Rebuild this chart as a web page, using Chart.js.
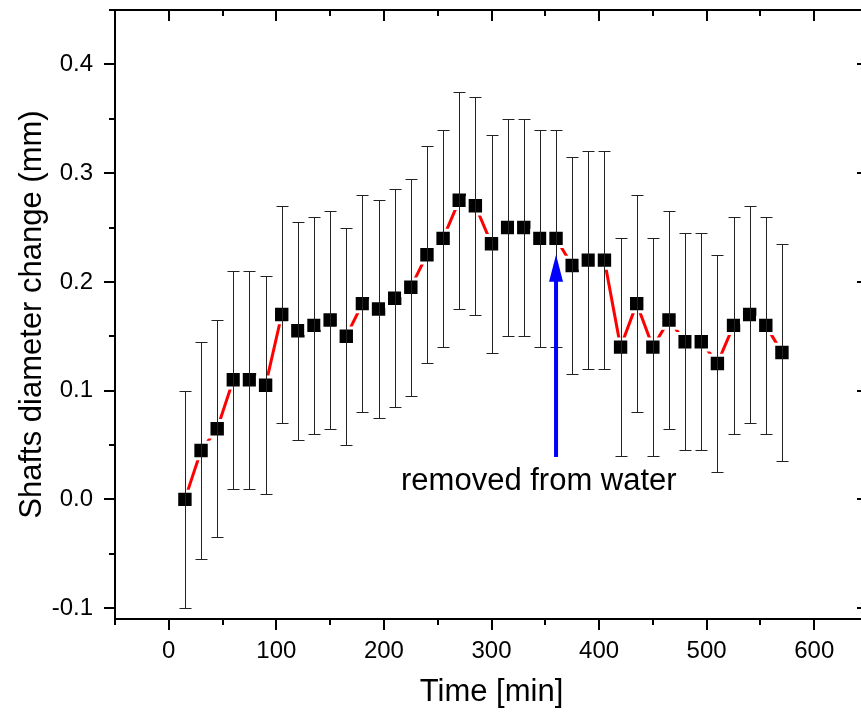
<!DOCTYPE html>
<html>
<head>
<meta charset="utf-8">
<title>Shafts diameter change</title>
<script src="https://cdn.jsdelivr.net/npm/chart.js@4.4.0/dist/chart.umd.min.js"></script>
<style>
    html, body { margin: 0; padding: 0; background: #fff; overflow: hidden; }
    canvas { display: block; }
</style>
</head>
<body>
<canvas id="diamChart" width="870" height="715"></canvas>
<script>
// data
const tiempos = [15, 30, 45, 60, 75, 90, 105, 120, 135, 150, 165, 180, 195, 210, 225, 240, 255, 270, 285,
    300, 315, 330, 345, 360, 375, 390, 405, 420, 435, 450, 465, 480, 495, 510, 525, 540, 555, 570];
const cambioDiametro = [0.0, 0.045, 0.065, 0.11, 0.11, 0.105, 0.17, 0.155, 0.16, 0.165, 0.15, 0.18, 0.175, 0.185,
    0.195, 0.225, 0.24, 0.275, 0.27, 0.235, 0.25, 0.25, 0.24, 0.24, 0.215, 0.22, 0.22, 0.14, 0.18, 0.14,
    0.165, 0.145, 0.145, 0.125, 0.16, 0.17, 0.16, 0.135];
const errores = [0.1, 0.1, 0.1, 0.1, 0.1, 0.1, 0.1, 0.1, 0.1, 0.1, 0.1, 0.1, 0.1, 0.1, 0.1, 0.1, 0.1, 0.1, 0.1,
    0.1, 0.1, 0.1, 0.1, 0.1, 0.1, 0.1, 0.1, 0.1, 0.1, 0.1, 0.1, 0.1, 0.1, 0.1, 0.1, 0.1, 0.1, 0.1];
const xTicks = [0, 100, 200, 300, 400, 500, 600];
const yTicks = [-0.1, 0.0, 0.1, 0.2, 0.3, 0.4];

// annotation (data units)
const flechaX = 360;
const flechaDesde = 0.039;
const flechaHasta = 0.225;
const notaTexto = 'removed from water';
const notaX = 344;
const notaY = 0.009;

const FUENTE = "'Liberation Sans', Arial, sans-serif";

// error bars drawn over the points
const barrasError = {
    id: 'barrasError',
    afterDatasetsDraw(chart) {
        const ctx = chart.ctx;
        const x = chart.scales.x, y = chart.scales.y;
        ctx.save();
        ctx.strokeStyle = '#222';
        ctx.lineWidth = 1;
        tiempos.forEach((t, i) => {
            const px = Math.round(x.getPixelForValue(t)) + 0.5;
            const top = Math.round(y.getPixelForValue(cambioDiametro[i] + errores[i])) + 0.5;
            const bot = Math.round(y.getPixelForValue(cambioDiametro[i] - errores[i])) + 0.5;
            ctx.beginPath();
            ctx.moveTo(px, top); ctx.lineTo(px, bot);
            ctx.moveTo(px - 6, top); ctx.lineTo(px + 6, top);
            ctx.moveTo(px - 6, bot); ctx.lineTo(px + 6, bot);
            ctx.stroke();
        });
        ctx.restore();
    }
};

// frame with inner/outer ticks (Origin style)
const marco = {
    id: 'marco',
    afterDraw(chart) {
        const ctx = chart.ctx;
        const a = chart.chartArea;
        const x = chart.scales.x, y = chart.scales.y;
        ctx.save();
        ctx.strokeStyle = '#000';
        ctx.lineWidth = 2;
        ctx.strokeRect(a.left, a.top, a.right - a.left, a.bottom - a.top);

        const xMenores = xTicks.map(v => v - 50).concat([xTicks[xTicks.length - 1] + 50])
            .filter(v => v >= x.min && v <= x.max);
        const yMenores = yTicks.map(v => v - 0.05).concat([yTicks[yTicks.length - 1] + 0.05])
            .filter(v => v >= y.min && v <= y.max);

        ctx.beginPath();
        const marcaX = (v, largo) => {
            const px = Math.round(x.getPixelForValue(v));
            ctx.moveTo(px, a.bottom); ctx.lineTo(px, a.bottom + largo);
            ctx.moveTo(px, a.top); ctx.lineTo(px, a.top + largo);
        };
        const marcaY = (v, largo) => {
            const py = Math.round(y.getPixelForValue(v));
            ctx.moveTo(a.left, py); ctx.lineTo(a.left - largo, py);
            ctx.moveTo(a.right, py); ctx.lineTo(a.right - largo, py);
        };
        xTicks.forEach(v => marcaX(v, 11));
        xMenores.forEach(v => marcaX(v, 6));
        yTicks.forEach(v => marcaY(v, 11));
        yMenores.forEach(v => marcaY(v, 6));
        ctx.stroke();
        ctx.restore();
    }
};

// arrow + note
const anotacion = {
    id: 'anotacion',
    afterDraw(chart) {
        const ctx = chart.ctx;
        const x = chart.scales.x, y = chart.scales.y;
        const px = x.getPixelForValue(flechaX);
        const y0 = y.getPixelForValue(flechaDesde);
        const y1 = y.getPixelForValue(flechaHasta);
        ctx.save();
        ctx.strokeStyle = '#0000ff';
        ctx.fillStyle = '#0000ff';
        ctx.lineWidth = 4;
        ctx.beginPath();
        ctx.moveTo(px, y0);
        ctx.lineTo(px, y1 + 20);
        ctx.stroke();
        ctx.beginPath();
        ctx.moveTo(px, y1);
        ctx.lineTo(px - 7, y1 + 27);
        ctx.lineTo(px + 7, y1 + 27);
        ctx.closePath();
        ctx.fill();

        ctx.fillStyle = '#000';
        ctx.font = '31px ' + FUENTE;
        ctx.textAlign = 'center';
        ctx.textBaseline = 'alphabetic';
        ctx.fillText(notaTexto, x.getPixelForValue(notaX), y.getPixelForValue(notaY));
        ctx.restore();
    }
};

const ctx = document.getElementById('diamChart').getContext('2d');
new Chart(ctx, {
    type: 'line',
    data: {
        datasets: [{
            label: 'Shafts diameter change',
            data: tiempos.map((t, i) => ({ x: t, y: cambioDiametro[i] })),
            borderColor: '#ff0000',
            borderWidth: 3,
            pointStyle: 'rect',
            pointRadius: 11.6,
            pointBackgroundColor: '#000',
            pointBorderColor: '#fff',
            pointBorderWidth: 3,
            pointHoverRadius: 11.6,
            tension: 0
        }]
    },
    options: {
        responsive: false,
        animation: false,
        layout: { autoPadding: false, padding: { top: 10, right: 2, left: 0, bottom: 0 } },
        plugins: {
            legend: { display: false },
            tooltip: { enabled: false }
        },
        scales: {
            x: {
                type: 'linear',
                min: -50,
                max: 650,
                grid: { display: false, drawTicks: false },
                border: { display: false },
                afterFit: s => {
                    s.height = 96;
                    s.paddingLeft = 0;
                    s.paddingRight = 0;
                },
                afterBuildTicks: s => { s.ticks = xTicks.map(v => ({ value: v })); },
                ticks: {
                    autoSkip: false,
                    maxRotation: 0,
                    padding: 18,
                    color: '#000',
                    font: { family: FUENTE, size: 24 }
                },
                title: {
                    display: true,
                    text: 'Time [min]',
                    color: '#000',
                    font: { family: FUENTE, size: 31 },
                    padding: { top: 0, bottom: 4 }
                }
            },
            y: {
                min: -0.11,
                max: 0.45,
                grid: { display: false, drawTicks: false },
                border: { display: false },
                afterFit: s => {
                    s.width = 115;
                    s.paddingTop = 0;
                    s.paddingBottom = 0;
                },
                afterBuildTicks: s => { s.ticks = yTicks.map(v => ({ value: v })); },
                ticks: {
                    padding: 22,
                    color: '#000',
                    font: { family: FUENTE, size: 24 },
                    callback: v => v.toFixed(1)
                },
                title: {
                    display: true,
                    text: 'Shafts diameter change (mm)',
                    color: '#000',
                    font: { family: FUENTE, size: 31 },
                    padding: { top: 14, bottom: 0 }
                }
            }
        }
    },
    plugins: [barrasError, marco, anotacion]
});
</script>
</body>
</html>
